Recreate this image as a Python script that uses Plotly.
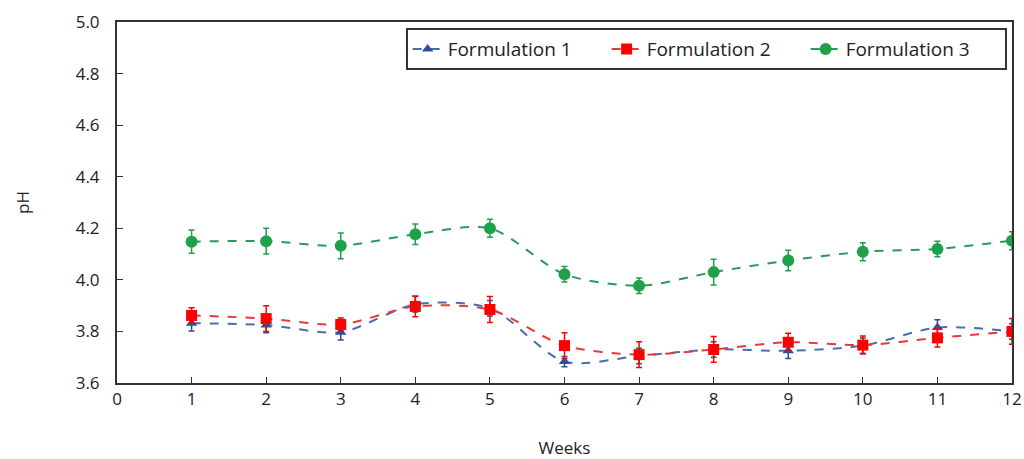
import plotly.graph_objects as go

weeks = [1, 2, 3, 4, 5, 6, 7, 8, 9, 10, 11, 12]
f1 = [3.832, 3.825, 3.797, 3.905, 3.89, 3.683, 3.705, 3.73, 3.725, 3.745, 3.815, 3.80]
f1_err = [0.03, 0.03, 0.03, 0.03, 0.03, 0.02, 0.03, 0.03, 0.03, 0.03, 0.03, 0.03]
f2 = [3.862, 3.85, 3.827, 3.897, 3.885, 3.745, 3.71, 3.73, 3.758, 3.747, 3.775, 3.80]
f2_err = [0.03, 0.05, 0.025, 0.04, 0.05, 0.05, 0.05, 0.05, 0.035, 0.035, 0.035, 0.05]
f3 = [4.148, 4.15, 4.132, 4.177, 4.20, 4.022, 3.977, 4.03, 4.075, 4.109, 4.12, 4.152]
f3_err = [0.045, 0.05, 0.05, 0.04, 0.035, 0.03, 0.03, 0.05, 0.04, 0.035, 0.03, 0.035]
names = ["Formulation 1", "Formulation 2", "Formulation 3"]

font_family = "Open Sans, Lato, sans-serif"

fig = go.Figure()
specs = [
    (f1, f1_err, "#4a6db0", "triangle-up", 10, "#2f4f9a"),
    (f2, f2_err, "#e8383d", "square", 11, "#ff0000"),
    (f3, f3_err, "#2a9a5a", "circle", 12, "#1fa04a"),
]
for name, (vals, errs, lc, sym, sz, mc) in zip(names, specs):
    fig.add_trace(go.Scatter(
        x=weeks, y=vals, name=name, mode="lines+markers",
        line=dict(color=lc, width=2, dash="dash", shape="spline", smoothing=0.8),
        marker=dict(symbol=sym, size=sz, color=mc, line=dict(width=0)),
        error_y=dict(type="data", array=errs, visible=True, color=mc, thickness=1.5, width=3),
    ))

fig.update_layout(
    width=1024, height=459,
    margin=dict(l=117, r=12, t=22, b=76),
    paper_bgcolor="white", plot_bgcolor="white",
    font=dict(family=font_family, size=17, color="#222222"),
    showlegend=True,
    legend=dict(
        orientation="h", x=0.994, y=0.983, xanchor="right", yanchor="top",
        bordercolor="#333333", borderwidth=2, bgcolor="white",
        font=dict(size=19, color="#222222"), itemwidth=30,
        entrywidth=154, entrywidthmode="pixels",
    ),
    xaxis=dict(
        range=[0, 12], tickmode="array", tickvals=list(range(0, 13)),
        ticks="inside", ticklen=6, tickcolor="#333", showgrid=False, zeroline=False,
        showline=True, linecolor="#333", linewidth=2, mirror=True,
        title=dict(text="Weeks", standoff=43, font=dict(size=17)),
        tickfont=dict(size=17), automargin=False,
    ),
    yaxis=dict(
        range=[3.6, 5.0], tickmode="array",
        tickvals=[3.6, 3.8, 4.0, 4.2, 4.4, 4.6, 4.8, 5.0],
        ticktext=["3.6", "3.8", "4.0", "4.2", "4.4", "4.6", "4.8", "5.0"],
        ticks="inside", ticklen=6, tickcolor="#333", showgrid=False, zeroline=False,
        showline=True, linecolor="#333", linewidth=2, mirror=True,
        ticklabelstandoff=12,
        title=dict(text="pH", standoff=42, font=dict(size=17)),
        tickfont=dict(size=17), automargin=False,
    ),
)

fig.write_html(
    "out.html",
    config={"displayModeBar": False},
    post_script="document.body.style.margin='0';document.body.style.overflow='hidden';",
)
